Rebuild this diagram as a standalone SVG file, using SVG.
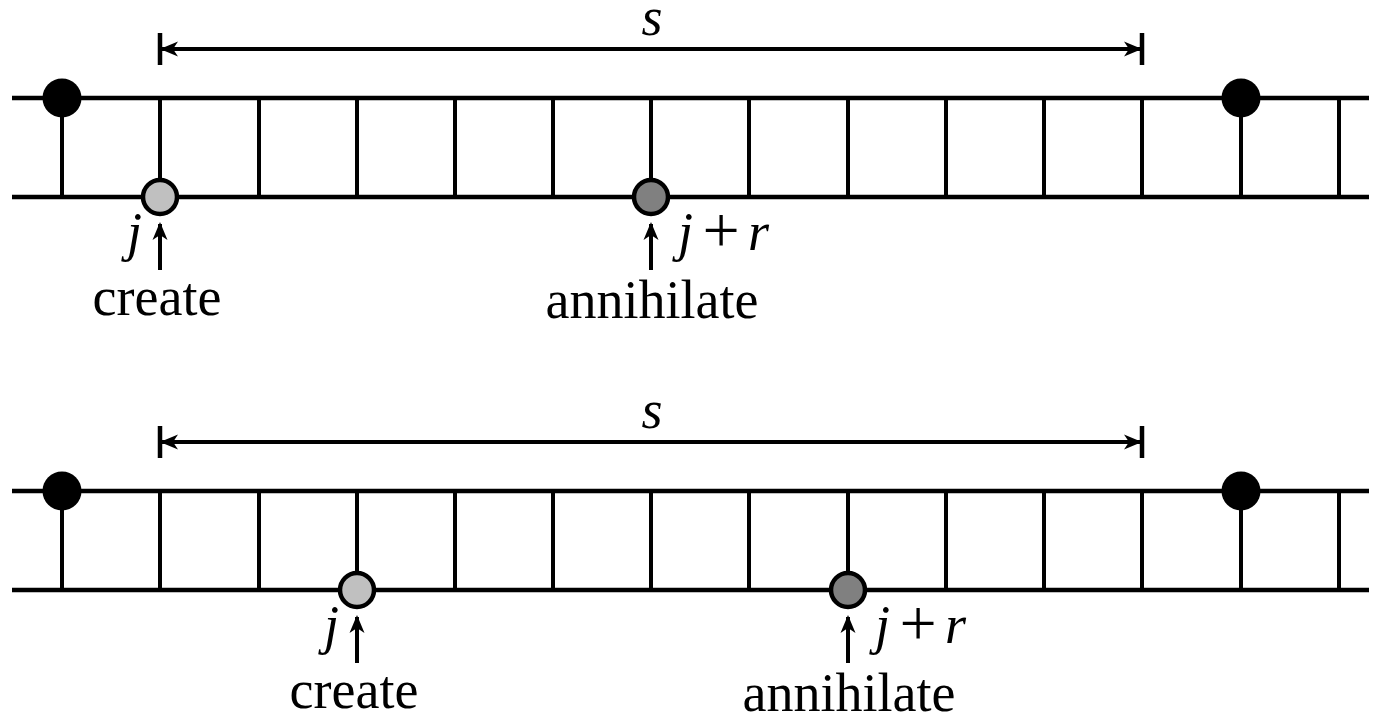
<svg xmlns="http://www.w3.org/2000/svg" width="1381" height="717" viewBox="0 0 1381 717">
  <style>
    .rail { stroke: #000; stroke-width: 4.6; fill: none; }
    .rung { stroke: #000; stroke-width: 4; fill: none; }
    .dim { stroke: #000; stroke-width: 4; fill: none; }
    .tick { stroke: #000; stroke-width: 4.5; fill: none; }
    .ptr { stroke: #000; stroke-width: 4; fill: none; }
    .fixed { fill: #000; }
    .create { fill: #c0c0c0; stroke: #000; stroke-width: 4.5; }
    .annih { fill: #808080; stroke: #000; stroke-width: 4.5; }
    text { font-family: "Liberation Serif", "Times New Roman", serif; font-size: 54px; fill: #000; }
    .it { font-style: italic; }
    .op { font-size: 66px; }
  </style>
  <defs>
    <marker id="head" markerUnits="userSpaceOnUse" markerWidth="24" markerHeight="20" viewBox="-20 -10 24 20" refX="0" refY="0" orient="auto-start-reverse">
      <path d="M2,0 L-16,-7.5 L-11,0 L-16,7.5 Z" fill="#000"/>
    </marker>
    <!-- one ladder: rails, rungs and the two fixed sites -->
    <g id="ladder">
      <line class="rail" x1="12" y1="98" x2="1369" y2="98"/>
      <line class="rail" x1="12" y1="197" x2="1369" y2="197"/>
      <path class="rung" d="M62,98V197 M160,98V197 M259,98V197 M357,98V197 M455,98V197 M553,98V197 M651,98V197 M749,98V197 M848,98V197 M946,98V197 M1044,98V197 M1142,98V197 M1241,98V197 M1339,98V197"/>
      <circle class="fixed" cx="62" cy="98" r="19.5"/>
      <circle class="fixed" cx="1241" cy="98" r="19.5"/>
    </g>
  </defs>

  <!-- upper panel -->
  <g id="panel-top">
    <use href="#ladder"/>
    <g id="span-top">
      <line class="tick" x1="160" y1="33" x2="160" y2="65"/>
      <line class="tick" x1="1142" y1="33" x2="1142" y2="65"/>
      <line class="dim" x1="162" y1="49" x2="1140" y2="49" marker-start="url(#head)" marker-end="url(#head)"/>
      <text class="it" x="652" y="35" text-anchor="middle">s</text>
    </g>
    <g id="create-top">
      <circle class="create" cx="160" cy="197" r="17"/>
      <line class="ptr" x1="160" y1="270" x2="160" y2="224" marker-end="url(#head)"/>
      <text class="it" x="142" y="250" text-anchor="end">j</text>
      <text x="157" y="315" text-anchor="middle">create</text>
    </g>
    <g id="annihilate-top">
      <circle class="annih" cx="651" cy="197" r="17"/>
      <line class="ptr" x1="651" y1="270" x2="651" y2="224" marker-end="url(#head)"/>
      <text class="it" x="678" y="250">j</text>
      <text class="op" x="721" y="252" text-anchor="middle">+</text>
      <text class="it" x="748" y="250">r</text>
      <text x="652" y="318" text-anchor="middle">annihilate</text>
    </g>
  </g>

  <!-- lower panel -->
  <g id="panel-bottom" transform="translate(0,393)">
    <use href="#ladder"/>
    <g id="span-bottom">
      <line class="tick" x1="160" y1="33" x2="160" y2="65"/>
      <line class="tick" x1="1142" y1="33" x2="1142" y2="65"/>
      <line class="dim" x1="162" y1="49" x2="1140" y2="49" marker-start="url(#head)" marker-end="url(#head)"/>
      <text class="it" x="652" y="35" text-anchor="middle">s</text>
    </g>
    <g id="create-bottom">
      <circle class="create" cx="357" cy="197" r="17"/>
      <line class="ptr" x1="357" y1="270" x2="357" y2="224" marker-end="url(#head)"/>
      <text class="it" x="339" y="250" text-anchor="end">j</text>
      <text x="354" y="315" text-anchor="middle">create</text>
    </g>
    <g id="annihilate-bottom">
      <circle class="annih" cx="848" cy="197" r="17"/>
      <line class="ptr" x1="848" y1="270" x2="848" y2="224" marker-end="url(#head)"/>
      <text class="it" x="875" y="250">j</text>
      <text class="op" x="918" y="252" text-anchor="middle">+</text>
      <text class="it" x="945" y="250">r</text>
      <text x="849" y="318" text-anchor="middle">annihilate</text>
    </g>
  </g>
</svg>
